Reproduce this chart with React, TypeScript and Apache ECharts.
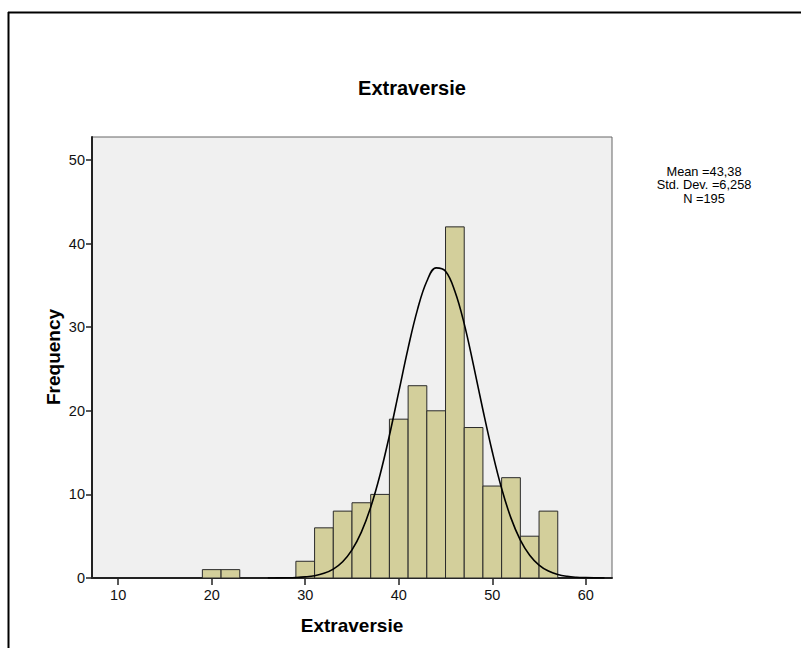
import React, { useEffect, useRef } from "react";
import * as echarts from "echarts";

// Histogram of the Extraversie score: bin starts (width 2) and their counts
const BIN_WIDTH = 2;
const binStarts = [19, 21, 29, 31, 33, 35, 37, 39, 41, 43, 45, 47, 49, 51, 53, 55];
const binCounts = [1, 1, 2, 6, 8, 9, 10, 19, 23, 20, 42, 18, 11, 12, 5, 8];

// Overlaid normal curve, sampled at whole score values
const curveX = [26, 27, 28, 29, 30, 31, 32, 33, 34, 35, 36, 37, 38, 39, 40, 41, 42, 43, 44, 45, 46, 47, 48, 49, 50, 51, 52, 53, 54, 55, 56, 57, 58, 59, 60, 61, 62];
const curveY = [0.003, 0.009, 0.023, 0.056, 0.13, 0.27, 0.56, 1.07, 1.95, 3.37, 5.49, 8.47, 12.35, 17.05, 22.26, 27.5, 32.1, 35.5, 37.1, 36.7, 34.3, 30.4, 25.4, 20.1, 15.1, 10.7, 7.16, 4.54, 2.73, 1.55, 0.83, 0.42, 0.2, 0.09, 0.04, 0.016, 0.006];

const xTicks = [10, 20, 30, 40, 50, 60];
const yTicks = [0, 10, 20, 30, 40, 50];

const statLines = ["Mean =43,38", "Std. Dev. =6,258", "N =195"];

const FONT = "'Liberation Sans', Arial, sans-serif";

export default function App() {
  const ref = useRef<HTMLDivElement>(null);

  useEffect(() => {
    if (!ref.current) return;
    const chart = echarts.init(ref.current, null, { renderer: "svg" });

    const barData = binStarts.map((s, i) => [s, s + BIN_WIDTH, binCounts[i]]);
    const lineData = curveX.map((x, i) => [x, curveY[i]]);

    chart.setOption({
      animation: false,
      backgroundColor: "#ffffff",
      textStyle: { fontFamily: FONT },
      graphic: [
        {
          type: "line",
          shape: { x1: 8, y1: 12.5, x2: 801, y2: 12.5 },
          style: { stroke: "#000", lineWidth: 2 },
        },
        {
          type: "line",
          shape: { x1: 8.5, y1: 12, x2: 8.5, y2: 648 },
          style: { stroke: "#000", lineWidth: 2 },
        },
        {
          type: "text",
          x: 412,
          y: 88,
          style: {
            text: "Extraversie",
            fontFamily: FONT,
            fontSize: 20,
            fontWeight: "bold",
            fill: "#000",
            textAlign: "center",
            textVerticalAlign: "middle",
          },
        },
        {
          // vertical axis title
          type: "text",
          x: 53,
          y: 357,
          rotation: Math.PI / 2,
          style: {
            text: "Frequency",
            fontFamily: FONT,
            fontSize: 19,
            fontWeight: "bold",
            fill: "#000",
            textAlign: "center",
            textVerticalAlign: "middle",
          },
        },
        ...statLines.map((t, i) => ({
          type: "text",
          x: 704,
          y: 171 + i * 13.5,
          style: {
            text: t,
            fontFamily: FONT,
            fontSize: 12.8,
            lineHeight: 13,
            fill: "#000",
            textAlign: "center",
            textVerticalAlign: "middle",
          },
        })),
      ],
      grid: {
        left: 92,
        top: 137,
        right: 189,
        bottom: 70,
        show: true,
        backgroundColor: "#f0f0f0",
        borderColor: "#666",
        borderWidth: 1,
      },
      xAxis: {
        type: "value",
        min: 7.2,
        max: 62.8,
        name: "Extraversie",
        nameLocation: "middle",
        nameGap: 38,
        nameTextStyle: { fontFamily: FONT, fontSize: 19, fontWeight: "bold", color: "#000" },
        axisLine: { show: true, onZero: false, lineStyle: { color: "#222", width: 2 } },
        axisTick: { show: true, length: 7, customValues: xTicks, lineStyle: { color: "#222", width: 1.5 } },
        axisLabel: { customValues: xTicks, margin: 9, fontSize: 14.5, color: "#111", fontFamily: FONT },
        splitLine: { show: false },
      },
      yAxis: {
        type: "value",
        min: 0,
        max: 52.75,
        axisLine: { show: true, lineStyle: { color: "#222", width: 2 } },
        axisTick: { show: true, length: 6, customValues: yTicks, lineStyle: { color: "#222", width: 1.5 } },
        axisLabel: { customValues: yTicks, margin: 7, fontSize: 14.5, color: "#111", fontFamily: FONT },
        splitLine: { show: false },
      },
      series: [
        {
          type: "custom",
          data: barData,
          encode: { x: [0, 1], y: 2 },
          z: 2,
          renderItem: (_params: any, api: any) => {
            const topLeft = api.coord([api.value(0), api.value(2)]);
            const bottomRight = api.coord([api.value(1), 0]);
            return {
              type: "rect",
              shape: {
                x: topLeft[0],
                y: topLeft[1],
                width: bottomRight[0] - topLeft[0],
                height: bottomRight[1] - topLeft[1],
              },
              style: { fill: "#d3cf9b", stroke: "#2a2a2a", lineWidth: 1 },
            };
          },
        },
        {
          type: "line",
          data: lineData,
          smooth: 0.4,
          showSymbol: false,
          z: 3,
          lineStyle: { color: "#000", width: 1.6 },
        },
      ],
    });

    return () => chart.dispose();
  }, []);

  return (
    <div
      ref={ref}
      style={{ position: "fixed", left: 0, top: 0, width: 801, height: 648 }}
    />
  );
}
